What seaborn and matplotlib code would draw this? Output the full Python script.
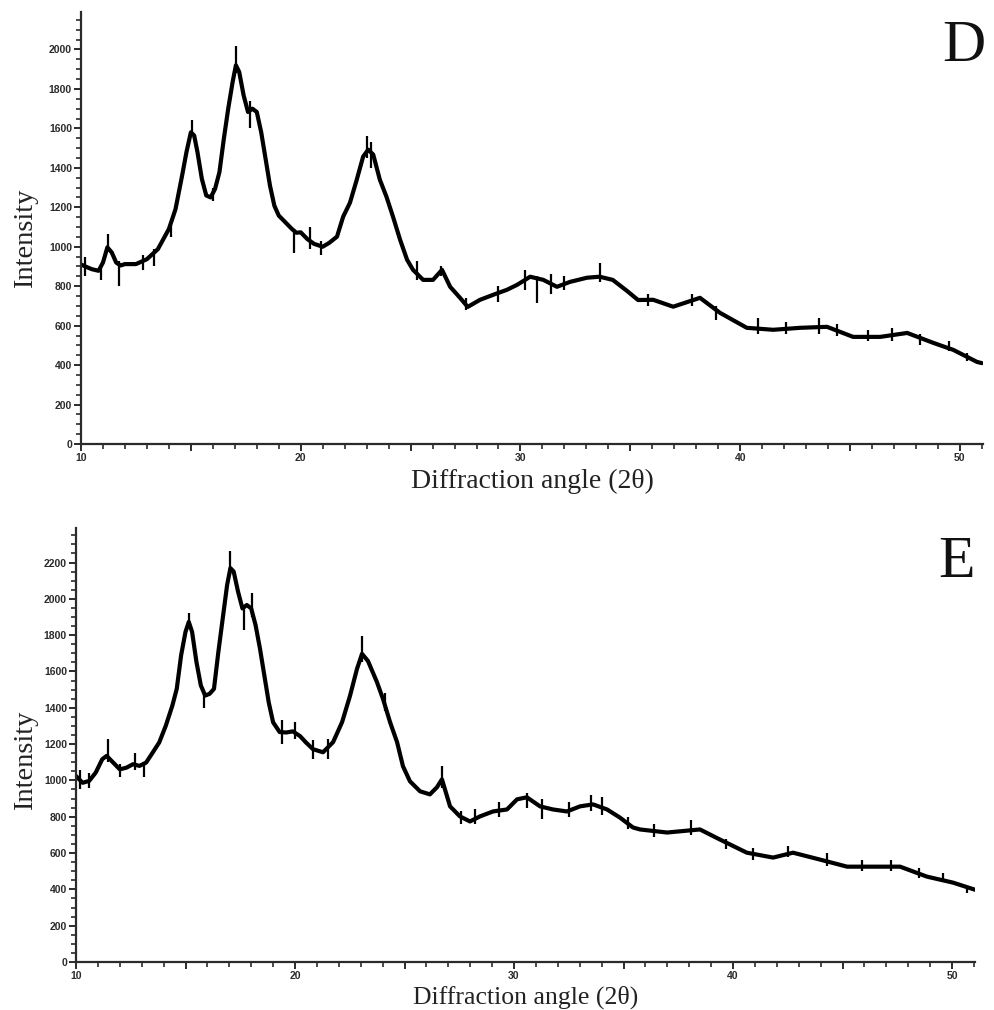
import numpy as np
import pandas as pd
import matplotlib
matplotlib.use("Agg")
import matplotlib.pyplot as plt
import seaborn as sns
from matplotlib.ticker import MultipleLocator, FuncFormatter

# ---- panel D : XRD pattern ----
d_angle = [10.0, 10.3, 10.5, 10.8, 11.0, 11.2, 11.4, 11.6, 11.8, 12.0, 12.5, 13.0,
           13.5, 14.0, 14.3, 14.6, 14.8, 15.0, 15.15, 15.3, 15.5, 15.7, 15.9, 16.1,
           16.3, 16.5, 16.7, 16.9, 17.05, 17.2, 17.4, 17.6, 17.8, 18.0, 18.2, 18.4,
           18.6, 18.8, 19.0, 19.3, 19.6, 19.8, 20.0, 20.3, 20.6, 21.0, 21.3, 21.65,
           21.93, 22.24, 22.55, 22.84, 23.07, 23.3, 23.6, 23.9, 24.2, 24.52, 24.84,
           25.11, 25.57, 26.02, 26.43, 26.8, 27.25, 27.6, 28.16, 28.75, 29.39, 29.85,
           30.44, 31.04, 31.66, 32.26, 33.03, 33.6, 34.2, 34.85, 35.35, 36.04, 36.95,
           38.17, 39.08, 40.3, 41.5, 42.73, 43.95, 45.14, 46.37, 47.6, 48.78, 49.7,
           50.78, 51.0]
d_intensity = [910, 895, 886, 878, 920, 997, 971, 920, 905, 912, 912, 937,
               988, 1090, 1190, 1360, 1480, 1580, 1564, 1480, 1344, 1260, 1250, 1293,
               1378, 1547, 1700, 1835, 1920, 1886, 1768, 1683, 1700, 1683, 1581, 1446,
               1310, 1208, 1158, 1124, 1090, 1071, 1073, 1039, 1015, 1000, 1020, 1051,
               1152, 1223, 1340, 1457, 1492, 1467, 1340, 1254, 1152, 1036, 934,
               883, 832, 832, 883, 797, 741, 695, 731, 756, 782, 807,
               848, 832, 797, 822, 843, 848, 832, 776, 730, 731, 696,
               741, 665, 589, 579, 589, 594, 543, 543, 563, 513, 477,
               416, 410]
# visible noise spikes: angle, low, high
d_spike_angle = [10.2, 10.9, 11.25, 11.75, 12.8, 13.3, 14.1, 15.05, 16.0, 17.05, 17.7,
                 19.7, 20.4, 20.9, 23.0, 23.2, 25.3, 26.4, 27.5, 29.0, 30.2, 30.75,
                 31.4, 32.0, 33.6, 35.8, 37.8, 38.9, 40.8, 42.1, 43.6, 44.4, 45.8,
                 46.9, 48.2, 49.5, 50.3]
d_spike_low = [850, 830, 990, 800, 880, 900, 1050, 1560, 1230, 1880, 1600,
               970, 990, 960, 1450, 1400, 830, 850, 680, 720, 780, 716,
               760, 780, 820, 700, 700, 630, 560, 560, 560, 550, 520,
               520, 500, 470, 420]
d_spike_high = [950, 900, 1064, 930, 960, 990, 1110, 1640, 1300, 2020, 1740,
                1090, 1100, 1030, 1560, 1530, 930, 900, 740, 800, 880, 850,
                860, 850, 920, 760, 760, 700, 640, 620, 640, 610, 580,
                590, 560, 520, 460]

# ---- panel E ----
e_angle = [10.0, 10.3, 10.6, 10.9, 11.2, 11.4, 11.7, 12.0, 12.3, 12.6, 12.9, 13.2,
           13.5, 13.8, 14.1, 14.4, 14.6, 14.8, 15.0, 15.15, 15.3, 15.5, 15.7, 15.9,
           16.1, 16.3, 16.5, 16.7, 16.9, 17.05, 17.2, 17.4, 17.6, 17.8, 18.0, 18.2,
           18.4, 18.6, 18.8, 19.0, 19.3, 19.6, 19.9, 20.23, 20.5, 20.82, 21.28, 21.74,
           22.15, 22.51, 22.83, 23.06, 23.33, 23.74, 24.02, 24.34, 24.66, 24.93, 25.25,
           25.71, 26.16, 26.48, 26.71, 27.08, 27.53, 27.99, 28.45, 29.04, 29.68, 30.14,
           30.59, 31.19, 31.78, 32.42, 33.01, 33.61, 34.25, 34.84, 35.43, 35.75, 36.99,
           38.49, 39.41, 40.63, 41.83, 42.74, 43.97, 45.21, 46.39, 47.63, 48.86, 50.05,
           51.05]
e_intensity = [1024, 987, 997, 1043, 1117, 1135, 1098, 1061, 1070, 1089, 1080, 1098,
               1153, 1209, 1301, 1412, 1504, 1689, 1818, 1873, 1818, 1652, 1523, 1467,
               1477, 1504, 1707, 1892, 2076, 2169, 2150, 2039, 1947, 1966, 1947, 1855,
               1726, 1578, 1430, 1320, 1266, 1264, 1270, 1244, 1209, 1172, 1155, 1211,
               1321, 1465, 1614, 1697, 1658, 1542, 1448, 1321, 1211, 1078, 995,
               940, 923, 962, 1006, 857, 802, 774, 802, 829, 840, 896,
               907, 857, 840, 829, 857, 868, 840, 795, 741, 730, 713,
               730, 674, 602, 575, 602, 564, 525, 525, 525, 470, 437,
               398]
e_spike_angle = [10.2, 10.6, 11.45, 12.0, 12.7, 13.1, 15.15, 15.85, 17.05, 17.65, 18.05,
                 19.4, 20.0, 20.8, 21.5, 23.06, 24.1, 26.71, 27.6, 28.2, 29.3, 30.6,
                 31.3, 32.5, 33.5, 34.0, 35.2, 36.4, 38.1, 39.7, 40.9, 42.5, 44.3,
                 45.9, 47.2, 48.5, 49.6, 50.7]
e_spike_low = [950, 960, 1100, 1020, 1060, 1020, 1840, 1400, 2130, 1830, 1900,
               1200, 1230, 1120, 1120, 1650, 1380, 960, 760, 760, 800, 850,
               790, 800, 830, 810, 730, 690, 700, 620, 560, 580, 530,
               500, 500, 460, 440, 380]
e_spike_high = [1060, 1040, 1227, 1090, 1150, 1100, 1920, 1480, 2261, 1960, 2030,
                1330, 1320, 1220, 1230, 1797, 1480, 1078, 830, 840, 880, 930,
                900, 880, 920, 910, 800, 760, 780, 680, 630, 640, 600,
                560, 560, 520, 490, 420]

panels = [
    dict(letter="D", angle=d_angle, inten=d_intensity, sa=d_spike_angle,
         sl=d_spike_low, sh=d_spike_high, ymax=2190,
         rect=[81 / 995, 566 / 1010, 902 / 995, 432 / 1010],
         xlab_y=-0.102, xlab_size=20, ylab=(-0.061, 0.477),
         letter_xy=(985 / 995, 0.9396)),
    dict(letter="E", angle=e_angle, inten=e_intensity, sa=e_spike_angle,
         sl=e_spike_low, sh=e_spike_high, ymax=2390,
         rect=[76 / 995, 48 / 1010, 899 / 995, 434 / 1010],
         xlab_y=-0.0955, xlab_size=18.5, ylab=(-0.056, 0.465),
         letter_xy=(975 / 995, 0.4287)),
]

sns.set_style("ticks")
plt.rcParams['font.family'] = ['Liberation Serif', 'DejaVu Serif']

fig = plt.figure(figsize=(9.95, 10.1), dpi=100)
axis_col = "#2b2b2b"

for p in panels:
    ax = fig.add_axes(p["rect"])
    df = pd.DataFrame({"angle": p["angle"], "intensity": p["inten"]})
    sns.lineplot(data=df, x="angle", y="intensity", ax=ax, color="black",
                 lw=3.0, sort=False, estimator=None)
    ax.vlines(p["sa"], p["sl"], p["sh"], color="black", lw=1.6)

    ax.set_xlim(10, 51.05)
    ax.set_ylim(0, p["ymax"])
    sns.despine(ax=ax)
    for s in ["left", "bottom"]:
        ax.spines[s].set_linewidth(1.6)
        ax.spines[s].set_color(axis_col)

    ax.xaxis.set_major_locator(MultipleLocator(5))
    ax.xaxis.set_minor_locator(MultipleLocator(1))
    ax.xaxis.set_major_formatter(FuncFormatter(
        lambda v, pos: f"{int(round(v))}" if round(v) % 10 == 0 else ""))
    ax.yaxis.set_major_locator(MultipleLocator(200))
    ax.yaxis.set_minor_locator(MultipleLocator(50))
    ax.tick_params(which="major", direction="out", length=5, width=1.4,
                   color=axis_col, labelsize=7.5, pad=1.5, labelcolor=axis_col)
    ax.tick_params(which="minor", direction="out", length=3.5, width=1.2,
                   color=axis_col)
    for lab in ax.get_xticklabels() + ax.get_yticklabels():
        lab.set_fontfamily(["Liberation Sans", "DejaVu Sans"])
        lab.set_fontweight("bold")
    fig.canvas.draw()
    xl = ax.get_xticklabels()
    if xl:
        xl[0].set_horizontalalignment("left")
    yl = ax.get_yticklabels()
    if yl:
        yl[0].set_verticalalignment("bottom")

    ax.set_xlabel("Diffraction angle (2θ)", fontsize=p["xlab_size"], color="#222222")
    ax.xaxis.label.set_va("baseline")
    ax.xaxis.set_label_coords(0.5, p["xlab_y"])
    ax.set_ylabel("Intensity", fontsize=20.5, color="#222222")
    ax.yaxis.label.set_va("center")
    ax.yaxis.set_label_coords(*p["ylab"])

    fig.text(p["letter_xy"][0], p["letter_xy"][1], p["letter"], fontsize=43,
             ha="right", va="baseline", color="#111111")

fig.savefig("out.png", dpi=100, facecolor="white")
